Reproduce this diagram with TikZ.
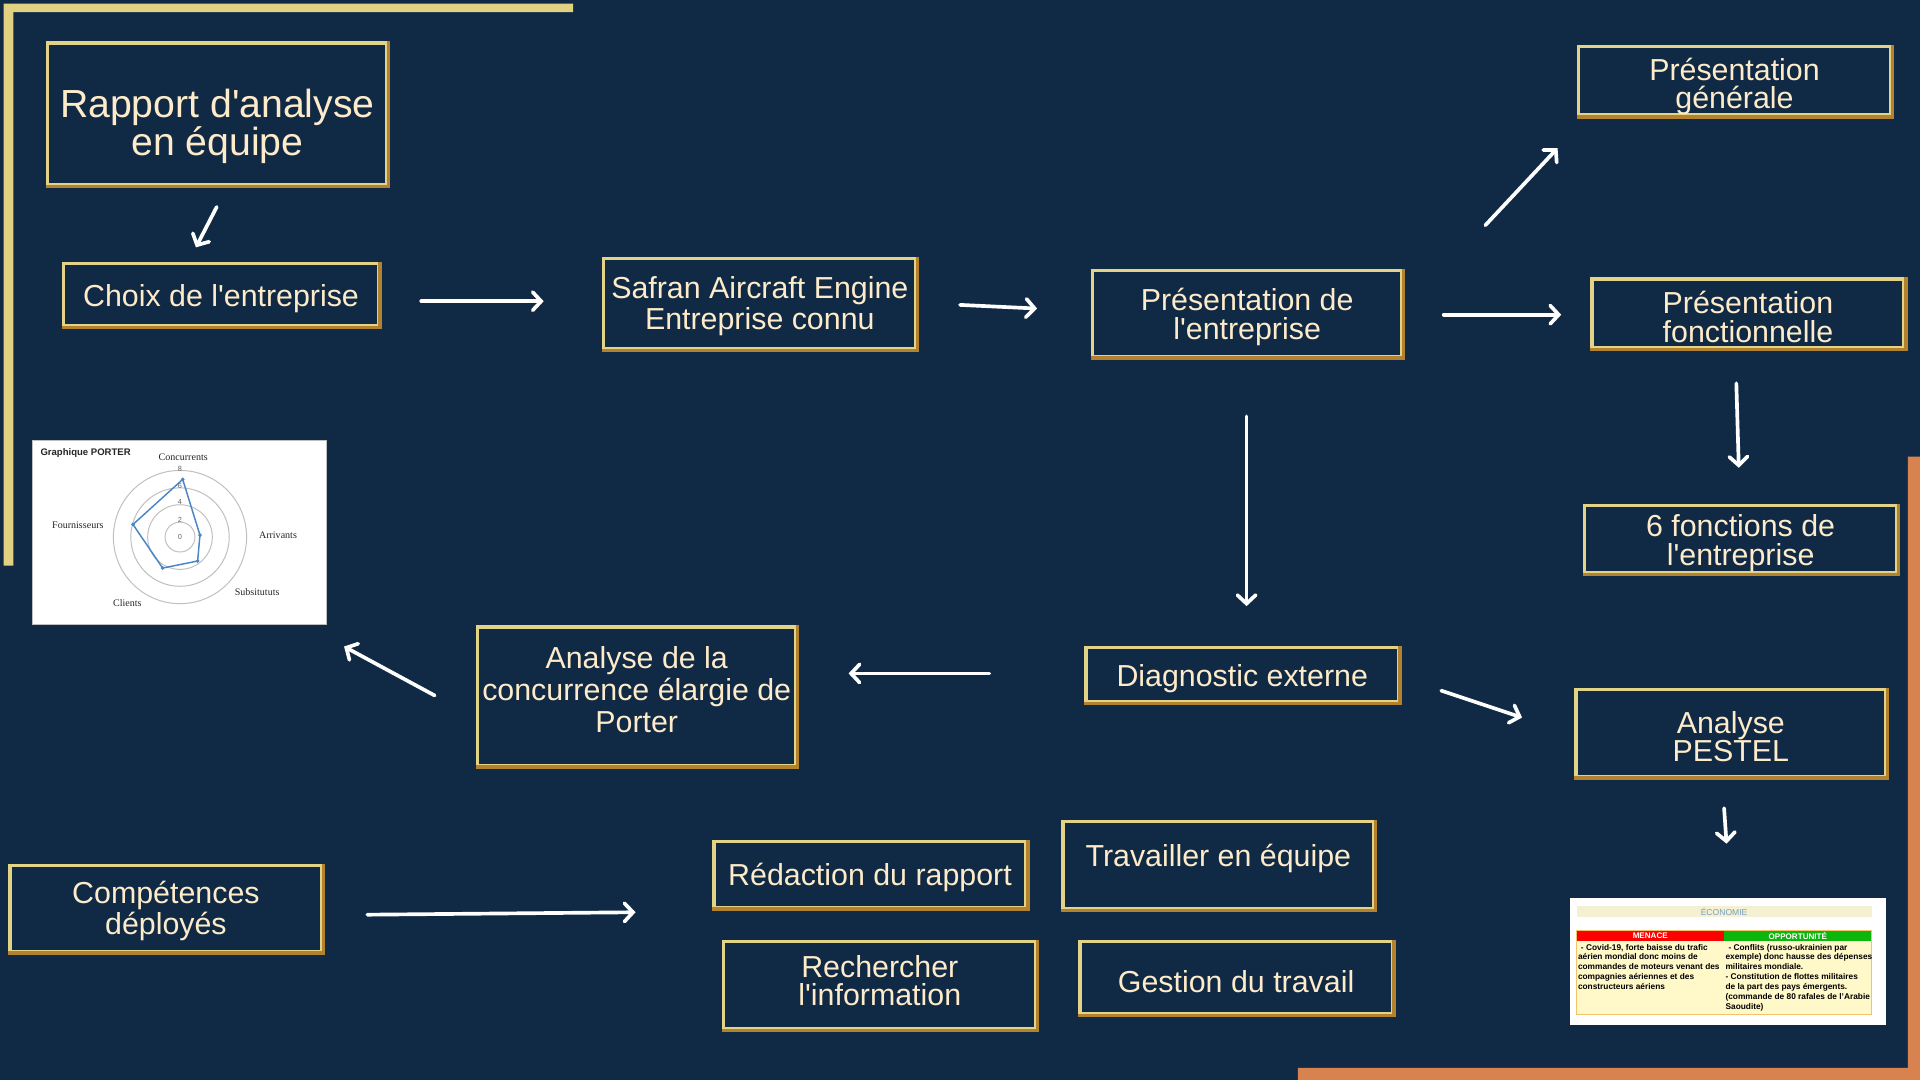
\documentclass[tikz,border=0pt]{standalone}
\usepackage{fontspec}
\setmainfont{Liberation Sans}[Ligatures=TeXOff]
\newfontfamily\chartserif{Liberation Serif}
\usetikzlibrary{arrows.meta}
\definecolor{bgnavy}{HTML}{102A46}
\definecolor{goldL}{HTML}{E2D386}
\definecolor{goldD}{HTML}{B3822F}
\definecolor{cream}{HTML}{FDEBC9}
\definecolor{frameY}{HTML}{E1D282}
\definecolor{frameO}{HTML}{D8834F}
\definecolor{chartblue}{HTML}{4A86C5}
\definecolor{ecoBg}{HTML}{F3F1D2}
\definecolor{ecoBlue}{HTML}{7C9CC4}
\definecolor{bodyY}{HTML}{FFF8C8}
\definecolor{tblBorder}{HTML}{F5C26B}
\definecolor{redH}{HTML}{FF0000}
\definecolor{greenH}{HTML}{0DB60D}
\begin{document}
\begin{tikzpicture}[x=0.5pt,y=-0.5pt,
  box/.style={draw=goldL, line width=1.4pt, text=cream, align=center, inner sep=0pt,
    font=\fontsize{12.4}{11.5}\selectfont, minimum width=127.5pt, text height=12pt},
  twoline/.style={text height=23.5pt},
  darkedge/.style={draw=goldD, line width=1.4pt},
  arr/.style={draw=white, line width=1.5pt, line cap=round,
    -{Straight Barb[length=3.5pt,width=7.5pt,line cap=round]}},
  chartlbl/.style={inner sep=0pt, font=\chartserif\fontsize{4.1}{4.5}\selectfont, text=black!85},
  chartnum/.style={inner sep=0pt, font=\fontsize{3}{3}\selectfont, text=black!60},
]
\fill[bgnavy] (0,0) rectangle (1568,882);
\useasboundingbox (0,0) rectangle (1568,882);
% frames
\fill[frameY] (3,3) -- (468,3) -- (468,10) -- (11,10) -- (11,462) -- (3,462) -- cycle;
\fill[frameO] (1558,373) -- (1568,373) -- (1568,882) -- (1060,882) -- (1060,872) -- (1558,872) -- cycle;

% boxes
\node[box, minimum width=138.5pt, minimum height=58pt, font=\fontsize{16}{15.5}\selectfont, text height=37pt] (rapport) at (177.5,93) {Rapport d'analyse\\en équipe};
\node[box, minimum width=128.5pt, minimum height=25.5pt] (choix) at (180.5,240.5) {Choix de l'entreprise};
\node[box, twoline, minimum height=37pt] (safran) at (620.5,248) {Safran Aircraft Engine\\Entreprise connu};
\node[box, twoline, minimum width=126.5pt, minimum height=35pt] (present) at (1018.5,256) {Présentation de\\l'entreprise};
\node[box, twoline, minimum height=28pt, text height=25pt] (presgen) at (1416.5,66) {Présentation\\générale};
\node[box, twoline, minimum height=28pt] (presfonc) at (1427.5,256) {Présentation\\fonctionnelle};
\node[box, twoline, minimum height=27.5pt] (fonctions) at (1421.5,440.5) {6 fonctions de\\l'entreprise};
\node[box, minimum height=22pt] (diag) at (1014.5,551) {Diagnostic externe};
\node[box, twoline, minimum width=126.5pt, minimum height=35.5pt] (pestel) at (1413.5,598.5) {Analyse\\PESTEL};
\node[box, minimum width=130pt, minimum height=56.5pt, font=\fontsize{12.4}{13}\selectfont, text height=37.5pt, text depth=8pt] (porter) at (520,568.5) {Analyse de la\\concurrence élargie de\\Porter};
\node[box, twoline, minimum height=35pt] (comp) at (135.5,742) {Compétences\\déployés};
\node[box, minimum height=27pt] (redac) at (710.5,714) {Rédaction du rapport};
\node[box, minimum width=127pt, minimum height=35.5pt, text depth=11pt] (travail) at (995,706.5) {Travailler en équipe};
\node[box, minimum height=35.5pt, text height=23pt, text depth=6pt] (recherche) at (718.5,804.5) {Rechercher\\l'information};
\node[box, minimum height=29.5pt] (gestion) at (1009.5,798.5) {Gestion du travail};

\foreach \n in {rapport,choix,safran,present,presgen,presfonc,fonctions,diag,pestel,porter,comp,redac,travail,recherche,gestion}
  \draw[darkedge] (\n.north east) -- (\n.south east) -- (\n.south west);

% arrows
\coordinate (a1s) at (177,169);  \coordinate (a1e) at (160,202);
\coordinate (a2s) at (344,246);  \coordinate (a2e) at (444,246);
\coordinate (a3s) at (784,249);  \coordinate (a3e) at (847,252);
\coordinate (a4s) at (1213,184); \coordinate (a4e) at (1272,121);
\coordinate (a5s) at (1179,257); \coordinate (a5e) at (1275,257);
\coordinate (a6s) at (1418,313); \coordinate (a6e) at (1420,382);
\coordinate (a7s) at (1018,340); \coordinate (a7e) at (1018,495);
\coordinate (a8s) at (808,550);  \coordinate (a8e) at (693,550);
\coordinate (a9s) at (355,568);  \coordinate (a9e) at (281,528);
\coordinate (a10s) at (1177,564); \coordinate (a10e) at (1243,586);
\coordinate (a11s) at (1408,660); \coordinate (a11e) at (1410,689);
\coordinate (a12s) at (300,747); \coordinate (a12e) at (519,745);
\foreach \i in {1,...,12} \draw[arr] (a\i s) -- (a\i e);

% Porter chart
\node[fill=white, draw=black!25, line width=0.3pt, minimum width=120pt, minimum height=75.3pt, inner sep=0pt, anchor=north west] (porterimg) at (26.5,359) {};
\foreach \r in {12.2,26.4,40.2,54.4}
  \draw[black!25, line width=0.4pt] (147,438.6) circle[radius=\r];
\node[anchor=west, inner sep=0pt, font=\bfseries\fontsize{3.9}{4}\selectfont, text=black!85] (gtitle) at (32.7,370) {Graphique PORTER};
\node[chartlbl] (lconc) at (149.6,373) {Concurrents};
\node[chartlbl] (larr) at (227,437) {Arrivants};
\node[chartlbl] (lsub) at (210,483.5) {Subsitututs};
\node[chartlbl] (lcli) at (104,492.5) {Clients};
\node[chartlbl] (lfour) at (63.6,428.6) {Fournisseurs};
\node[chartnum] (n8) at (147,382.8) {8};
\node[chartnum] (n6) at (147,396.7) {6};
\node[chartnum] (n4) at (147,410.2) {4};
\node[chartnum] (n2) at (147,424.4) {2};
\node[chartnum] (n0) at (147,438.6) {0};
\draw[chartblue, line width=0.6pt, line join=round] (149.2,391.5) -- (163.3,437) -- (161.4,458.2) -- (132.8,463.9) -- (108.6,428.3) -- cycle;
\foreach \p in {(149.2,391.5),(163.3,437),(161.4,458.2),(132.8,463.9),(108.6,428.3)}
  \fill[chartblue] \p circle[radius=1.6];

% PESTEL picture
\node[fill=white, minimum width=129pt, minimum height=51.75pt, inner sep=0pt, anchor=north west] (pestimg) at (1282,733) {};
\fill[ecoBg] (1287.6,740) rectangle (1528.6,748.6);
\node[inner sep=0pt, text=ecoBlue, font=\fontsize{3.5}{4}\selectfont] (eco) at (1408,744.3) {ÉCONOMIE};
\fill[bodyY] (1287.6,759.8) rectangle (1528.6,828.2);
\fill[redH] (1287.6,759.8) rectangle (1407.9,768.2);
\fill[greenH] (1407.9,759.8) rectangle (1528.6,768.2);
\draw[tblBorder, line width=0.4pt] (1287.6,759.8) rectangle (1528.6,828.2);
\node[inner sep=0pt, text=white, font=\bfseries\fontsize{3.3}{4}\selectfont] (menace) at (1347.7,764) {MENACE};
\node[inner sep=0pt, text=white, font=\bfseries\fontsize{3.3}{4}\selectfont] (opp) at (1468.2,764) {OPPORTUNITÉ};
\node[anchor=north west, align=left, inner sep=0pt, font=\bfseries\fontsize{3.4}{4.08}\selectfont] (lefttxt) at (1288.3,770.5)
  {\hspace*{1.2pt}- Covid-19, forte baisse du trafic\\aérien mondial donc moins de\\commandes de moteurs venant des\\compagnies aériennes et des\\constructeurs aériens};
\node[anchor=north west, align=left, inner sep=0pt, font=\bfseries\fontsize{3.4}{4.08}\selectfont] (righttxt) at (1408.8,770.5)
  {\hspace*{1.2pt}- Conflits (russo-ukrainien par\\exemple) donc hausse des dépenses\\militaires mondiale.\\- Constitution de flottes militaires\\de la part des pays émergents.\\(commande de 80 rafales de l’Arabie\\Saoudite)};
\end{tikzpicture}
\end{document}
